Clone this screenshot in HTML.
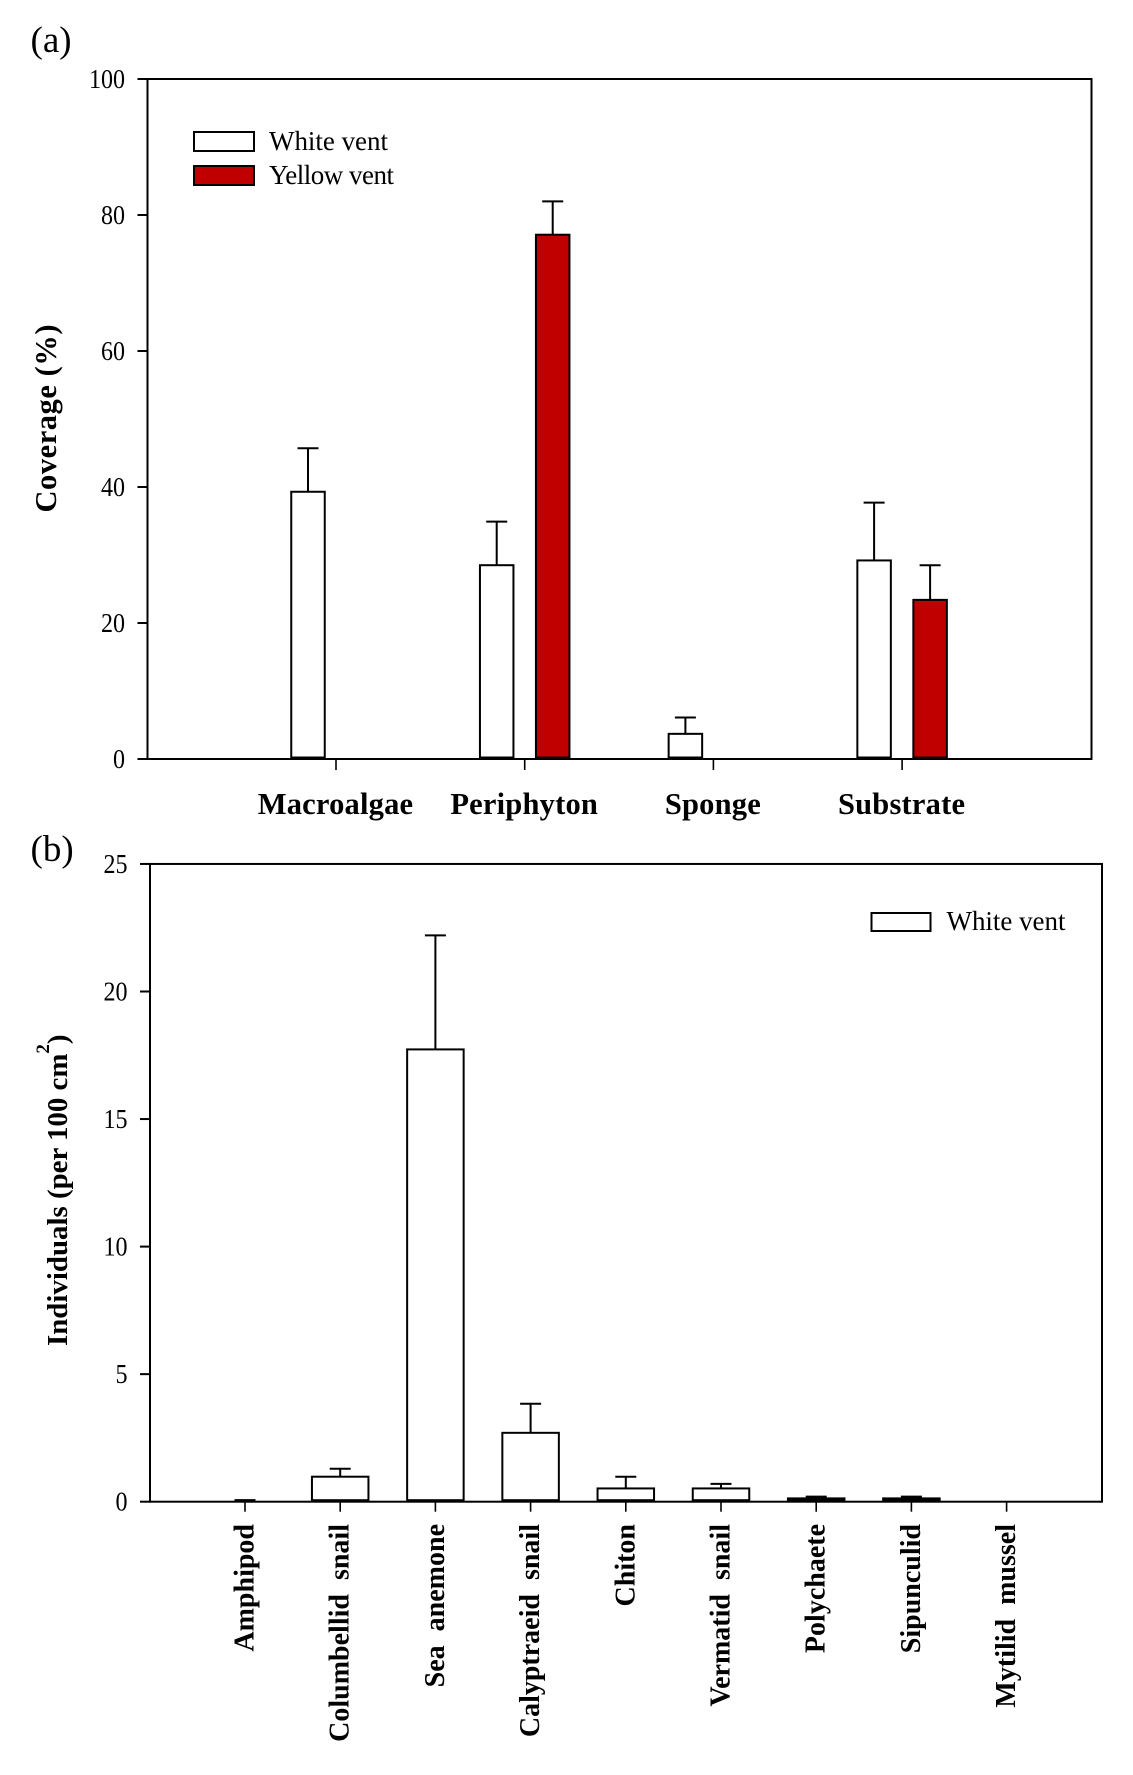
<!DOCTYPE html>
<html>
<head>
<meta charset="utf-8">
<title>Coverage and individuals at white and yellow vents</title>
<style>
html,body{margin:0;padding:0;background:#fff;}
svg{display:block;font-family:"Liberation Serif",serif;fill:#000;}
</style>
</head>
<body>
<svg id="figure" width="1133" height="1775" viewBox="0 0 1133 1775" xmlns="http://www.w3.org/2000/svg">
  <rect x="0" y="0" width="1133" height="1775" fill="#fff"/>
  <text x="30.5" y="52" font-size="37">(a)</text>
  <text x="30.5" y="861" font-size="37">(b)</text>
  <g id="chart-a"></g>
  <g id="chart-b"></g>
  <text transform="translate(56,512.5) rotate(-90)" font-size="30.5" font-weight="bold" textLength="188">Coverage (%)</text>
  <text transform="translate(67,1346) rotate(-90)" font-size="28.9" font-weight="bold">Individuals (per 100 cm<tspan dy="-18" font-size="19">2</tspan><tspan dy="18">)</tspan></text>
  <g>
    <rect x="194" y="132" width="60" height="19" fill="#fff" stroke="#000" stroke-width="2"/>
    <text x="269" y="150" font-size="27" textLength="119">White vent</text>
    <rect x="194" y="166" width="60" height="19" fill="#c00000" stroke="#000" stroke-width="2"/>
    <text x="269" y="184" font-size="27" textLength="125">Yellow vent</text>
  </g>
  <g>
    <rect x="871.5" y="913" width="59" height="18" fill="#fff" stroke="#000" stroke-width="2"/>
    <text x="946.5" y="930" font-size="27" textLength="119">White vent</text>
  </g>
</svg>
<script>
// Panel (a) data
const coverageCategories = ['Macroalgae', 'Periphyton', 'Sponge', 'Substrate'];
const coverageWhite = [39.3, 28.5, 3.7, 29.2];
const coverageWhiteErrTop = [45.7, 34.9, 6.1, 37.7];
const coverageYellow = [0, 77.1, 0, 23.4];
const coverageYellowErrTop = [0, 82, 0, 28.5];
const coverageTicks = [0, 20, 40, 60, 80, 100];

// Panel (b) data
const taxaCategories = ['Amphipod', 'Columbellid snail', 'Sea anemone', 'Calyptraeid snail', 'Chiton', 'Vermatid snail', 'Polychaete', 'Sipunculid', 'Mytilid mussel'];
const taxaWhite = [0, 0.98, 17.73, 2.7, 0.52, 0.52, 0.13, 0.13, 0];
const taxaWhiteErrTop = [0.06, 1.29, 22.2, 3.84, 0.98, 0.7, 0.2, 0.2, 0];
const taxaTicks = [0, 5, 10, 15, 20, 25];

const NS = 'http://www.w3.org/2000/svg';
function make(parent, tag, attrs, text) {
  const el = document.createElementNS(NS, tag);
  for (const k in attrs) el.setAttribute(k, attrs[k]);
  if (text !== undefined) el.textContent = text;
  parent.appendChild(el);
  return el;
}

// Axis functions
const yA = v => 759 - v * 6.8;
const xA = i => 336 + i * 188.7;
const yB = v => 1501.7 - v * 25.51;
const xB = i => 245 + i * 95.2;

function drawErr(parent, cx, top, errTop) {
  const cap = make(parent, 'line', {x1: cx - 10.5, x2: cx + 10.5, y1: errTop, y2: errTop, stroke: '#000', 'stroke-width': 2});
  
  
  const stem = make(parent, 'line', {x1: cx, x2: cx, y1: errTop, y2: top, stroke: '#000', 'stroke-width': 2});
  
  
}

function drawBar(parent, cx, width, top, base, fill) {
  const bar = make(parent, 'rect', {x: cx - width / 2 + 1, y: top, width: width - 2, height: Math.max(base - top, 0.5), fill: fill, stroke: '#000', 'stroke-width': 2});
  
  
}

function drawYAxis(parent, ticks, yFn, axisX, labelX) {
  ticks.forEach(t => {
    const tick = make(parent, 'line', {x1: axisX - 10, x2: axisX, y1: yFn(t), y2: yFn(t), stroke: '#000', 'stroke-width': 2});
    
    
    const label = make(parent, 'text', {transform: 'translate(' + labelX + ',' + (yFn(t) + 9) + ') scale(0.89,1)', 'font-size': 27, 'text-anchor': 'end'}, String(t));
    
    
  });
}

// Panel (a)
const gA = document.getElementById('chart-a');
coverageCategories.forEach((c, i) => {
  if (coverageWhiteErrTop[i] > 0) drawErr(gA, xA(i) - 28, yA(coverageWhite[i]), yA(coverageWhiteErrTop[i]));
  if (coverageWhite[i] > 0) drawBar(gA, xA(i) - 28, 35.5, yA(coverageWhite[i]), yA(0) - 1.5, '#fff');
  if (coverageYellowErrTop[i] > 0) drawErr(gA, xA(i) + 28, yA(coverageYellow[i]), yA(coverageYellowErrTop[i]));
  if (coverageYellow[i] > 0) drawBar(gA, xA(i) + 28, 35.5, yA(coverageYellow[i]), yA(0) - 1.5, '#c00000');
  const tick = make(gA, 'line', {x1: xA(i), x2: xA(i), y1: yA(0), y2: yA(0) + 11, stroke: '#000', 'stroke-width': 1.6});
  
  
  const label = make(gA, 'text', {x: xA(i) - 0.5, y: 814, 'font-size': 30.5, 'font-weight': 'bold', 'text-anchor': 'middle', 'letter-spacing': 0.2}, c);
  
  
});
drawYAxis(gA, coverageTicks, yA, 147.5, 125);
const frameA = make(gA, 'rect', {x: 147.5, y: yA(100), width: 944, height: yA(0) - yA(100), fill: 'none', stroke: '#000', 'stroke-width': 2});



// Panel (b)
const gB = document.getElementById('chart-b');
taxaCategories.forEach((c, i) => {
  if (taxaWhiteErrTop[i] > 0) drawErr(gB, xB(i), yB(taxaWhite[i]), yB(taxaWhiteErrTop[i]));
  if (taxaWhite[i] > 0) drawBar(gB, xB(i), 58.5, yB(taxaWhite[i]), yB(0) - 1.5, '#fff');
  const tick = make(gB, 'line', {x1: xB(i), x2: xB(i), y1: yB(0), y2: yB(0) + 10, stroke: '#000', 'stroke-width': 1.6});
  
  
  const label = make(gB, 'text', {transform: 'translate(' + (xB(i) + 8.5) + ',1524) rotate(-90)', 'font-size': 28, 'font-weight': 'bold', 'text-anchor': 'end', 'word-spacing': 7}, c);
  
  
});
drawYAxis(gB, taxaTicks, yB, 150, 127.5);
const frameB = make(gB, 'rect', {x: 150, y: yB(25), width: 952, height: yB(0) - yB(25), fill: 'none', stroke: '#000', 'stroke-width': 2});


</script>
</body>
</html>
